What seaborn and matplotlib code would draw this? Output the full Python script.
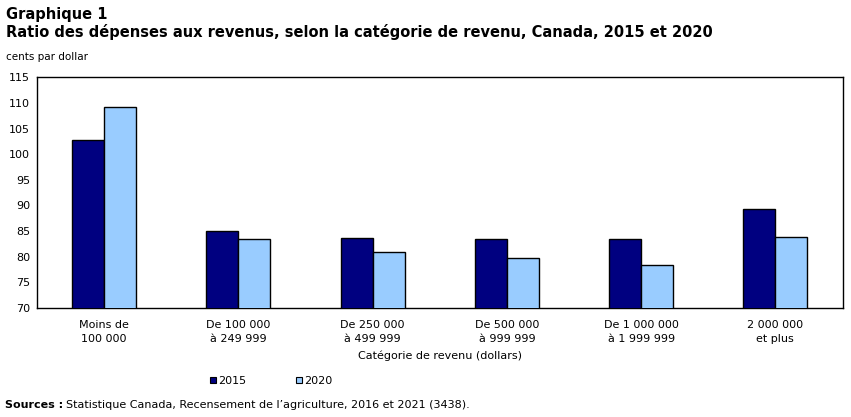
import matplotlib
matplotlib.use("Agg")
import matplotlib.pyplot as plt
import seaborn as sns
import pandas as pd
from matplotlib.lines import Line2D

categories = ["Moins de\n100 000", "De 100 000\nà 249 999", "De 250 000\nà 499 999",
              "De 500 000\nà 999 999", "De 1 000 000\nà 1 999 999", "2 000 000\net plus"]
years = ["2015", "2020"]
values_2015 = [102.7, 85.0, 83.6, 83.4, 83.4, 89.3]
values_2020 = [109.3, 83.4, 80.9, 79.7, 78.4, 83.8]
yticks = [70, 75, 80, 85, 90, 95, 100, 105, 110, 115]
colors = ["#000080", "#99CCFF"]

df = pd.DataFrame({
    "cat": categories * 2,
    "year": [years[0]] * 6 + [years[1]] * 6,
    "val": values_2015 + values_2020,
})

sns.set_style("white")
plt.rcParams["font.family"] = ["DejaVu Sans"]
plt.rcParams["text.color"] = "black"
plt.rcParams["xtick.color"] = "black"
plt.rcParams["ytick.color"] = "black"

W, H = 851, 417
fig = plt.figure(figsize=(W / 100, H / 100), dpi=100)

def fx(x):
    return x / W

def fy(y):
    return 1 - y / H

ax = fig.add_axes([fx(37), fy(308), fx(842.5) - fx(37), fy(77.3) - fy(308)])
sns.barplot(data=df, x="cat", y="val", hue="year", order=categories, hue_order=years,
            palette=colors, saturation=1, width=0.476, edgecolor="black", linewidth=1.0,
            legend=False, ax=ax, zorder=3)

ax.set_ylim(70, 115)
ax.set_xlim(-0.5, 5.5)
ax.set_yticks(yticks)
ax.set_yticklabels([str(t) for t in yticks], fontsize=8)
ax.tick_params(axis="x", labelsize=8, length=0, pad=9, colors="black")
ax.tick_params(axis="y", length=0, pad=5, colors="black")
ax.set_xlabel("")
ax.set_ylabel("")
for s in ax.spines.values():
    s.set_visible(True)
    s.set_color("black")
    s.set_linewidth(1.0)
for lbl in ax.get_xticklabels():
    lbl.set_linespacing(1.45)

fig.text(fx(6), fy(14), "Graphique 1", fontsize=10.5, fontweight="bold", va="center", ha="left")
fig.text(fx(6), fy(32), "Ratio des dépenses aux revenus, selon la catégorie de revenu, Canada, 2015 et 2020",
         fontsize=10.5, fontweight="bold", va="center", ha="left")
fig.text(fx(6), fy(57), "cents par dollar", fontsize=7.5, va="center", ha="left")
fig.text(fx(440), fy(356), "Catégorie de revenu (dollars)", fontsize=8, va="center", ha="center")

handles = [Line2D([], [], marker="s", linestyle="none", markersize=5,
                  markerfacecolor=c, markeredgecolor="black", markeredgewidth=0.8) for c in colors]
fig.legend(handles, years, loc="center", bbox_to_anchor=(fx(271), fy(381)), ncol=2,
           frameon=False, fontsize=8, handlelength=0.6, handletextpad=0.1,
           columnspacing=4.5)

t = fig.text(fx(5), fy(405), "Sources :", fontsize=8, fontweight="bold", va="center", ha="left")
fig.canvas.draw()
bb = t.get_window_extent()
fig.text((bb.x1 + 3) / W, fy(405),
         "Statistique Canada, Recensement de l’agriculture, 2016 et 2021 (3438).",
         fontsize=8, va="center", ha="left")

fig.savefig("out.png", dpi=100)
